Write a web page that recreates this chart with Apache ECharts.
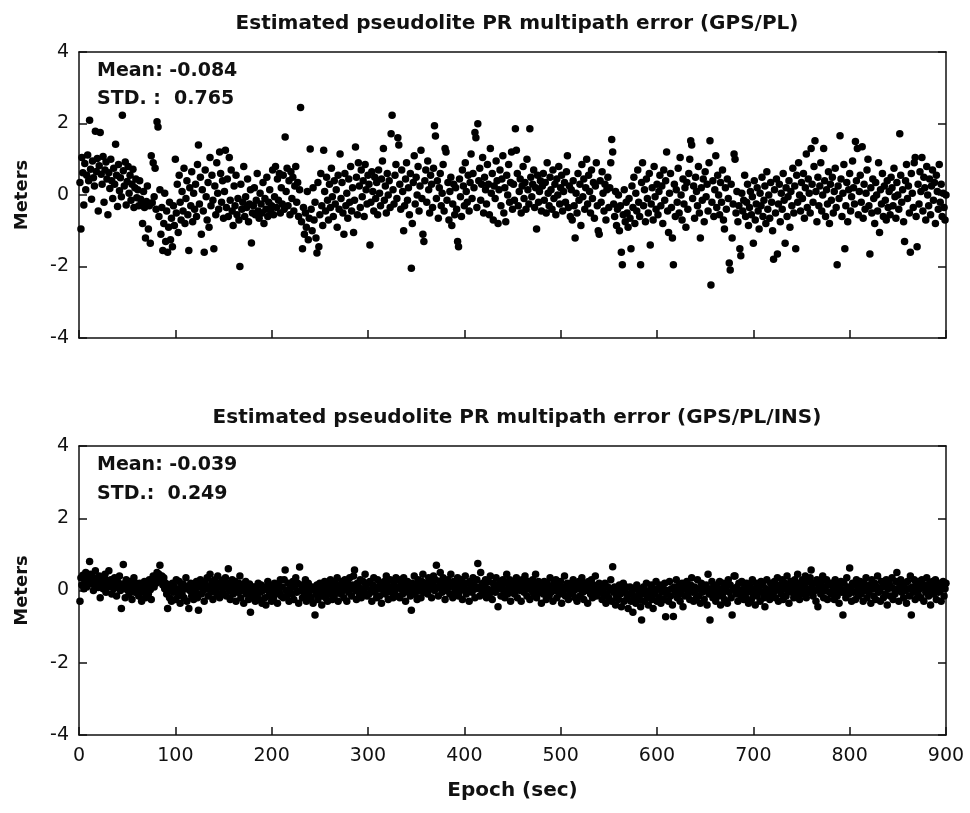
<!DOCTYPE html>
<html>
<head>
<meta charset="utf-8">
<script src="https://cdn.jsdelivr.net/npm/echarts@6/dist/echarts.min.js"></script>
<style>html,body{margin:0;padding:0;background:#fff}#chart{width:970px;height:813px}</style>
</head>
<body>
<div id="chart"></div>
<script>
// ---- data (epoch = index + 1 sec) ----
const xTicks = [0, 100, 200, 300, 400, 500, 600, 700, 800, 900];
const yTicks = [-4, -2, 0, 2, 4];
const titleTop = 'Estimated pseudolite PR multipath error (GPS/PL)';
const titleBottom = 'Estimated pseudolite PR multipath error (GPS/PL/INS)';
const statsTop = ['Mean: -0.084', 'STD. :  0.765'];
const statsBottom = ['Mean: -0.039', 'STD.:  0.249'];

const errGpsPl = [
0.35,-0.95,1.05,0.62,-0.28,0.88,0.15,0.55,1.12,0.4,2.09,0.72,-0.12,0.95,0.48,0.25,1.78,0.66,1.02,-0.45,0.82,1.75,0.58,0.3,1.08,-0.2,0.7,0.92,0.45,-0.55,
0.62,0.18,1.0,0.4,-0.1,0.75,0.3,1.42,0.55,-0.32,0.85,0.12,0.48,-0.05,2.23,0.68,0.25,0.92,-0.28,0.38,0.8,0.05,0.55,-0.15,0.3,0.72,-0.35,0.2,0.45,-0.08,
0.15,-0.3,0.4,-0.12,-0.25,-0.8,0.1,-0.35,-1.2,-0.18,0.25,-0.95,-0.3,-1.35,1.1,-0.22,0.9,-0.05,0.75,-0.4,2.05,1.9,-0.6,0.15,-1.1,-0.35,-1.55,-0.8,0.05,-1.3,
-0.45,-1.6,-0.9,-0.2,-1.25,-0.65,-1.45,-0.3,-0.85,1.0,-0.5,0.3,-1.05,0.55,-0.2,-0.7,0.1,-0.45,0.75,-0.8,-0.1,0.4,-0.55,-1.55,0.2,-0.3,0.65,-0.75,0.05,-0.4,
0.3,-0.6,0.85,1.4,-0.25,0.5,-1.1,0.15,-0.45,-1.6,0.7,-0.05,-0.7,0.35,-0.9,1.05,-0.3,0.55,-0.15,-1.5,0.25,-0.55,0.9,0.05,-0.4,1.2,0.6,-0.2,0.4,-0.65,
0.1,1.25,-0.35,0.45,-0.6,1.05,-0.15,0.7,-0.45,-0.85,0.25,-0.3,0.55,-0.55,-0.1,-0.7,-2.0,0.3,-0.4,-0.2,0.8,-0.6,-0.05,-0.35,0.45,-0.75,-0.25,0.15,-1.34,-0.5,
-0.3,0.2,-0.55,-0.15,0.6,-0.45,-0.65,0.05,-0.25,-0.5,0.35,-0.8,-0.1,-0.4,0.5,-0.6,-0.2,0.15,-0.45,-0.3,0.7,-0.55,-0.05,0.8,-0.35,0.45,-0.15,0.6,-0.5,0.2,
-0.25,0.55,-0.4,1.62,0.1,0.75,-0.3,0.4,-0.55,0.65,-0.1,0.5,-0.45,0.25,0.8,-0.2,0.35,-0.6,0.15,2.45,-0.75,-1.5,-0.35,-1.1,-0.5,-0.9,0.1,-1.25,-0.65,1.29,
-0.4,-1.0,0.2,-0.7,-0.2,-1.2,-1.62,0.35,-1.45,-0.55,0.6,-0.3,-0.85,1.25,0.1,-0.45,0.5,-0.15,-0.7,0.3,-0.35,0.75,-0.05,-0.6,0.4,-0.25,0.15,-0.9,0.55,-0.4,
1.15,-0.1,0.35,-0.5,-1.1,0.6,-0.3,0.05,-0.65,0.45,-0.2,0.8,-0.45,0.2,-1.05,-0.15,1.34,0.5,-0.55,0.9,0.25,-0.35,0.7,-0.05,0.4,-0.6,0.85,0.15,-0.25,0.55,
0.3,-1.4,-0.2,0.65,0.1,-0.45,0.5,-0.1,0.35,-0.55,0.7,0.05,-0.3,0.45,0.95,1.3,-0.15,0.25,-0.5,0.6,0.0,0.4,-0.35,1.71,2.23,0.15,-0.25,0.55,0.85,-0.1,
1.6,1.4,0.3,-0.4,0.7,0.1,-1.0,-0.3,0.45,0.9,-0.15,0.2,-0.55,0.6,-2.05,-0.8,0.35,1.1,-0.25,0.5,0.0,0.8,-0.45,0.25,1.25,-0.1,-1.1,-1.3,0.4,0.7,
-0.2,0.95,0.15,-0.5,0.55,0.3,-0.35,0.75,1.94,1.65,-0.1,0.4,-0.65,0.2,0.6,-0.3,0.05,0.85,-0.45,1.3,1.2,-0.15,0.35,-0.7,0.1,0.5,-0.85,-0.25,0.3,-0.55,
0.2,-0.4,-1.3,-1.45,0.45,-0.05,-0.6,0.7,0.25,-0.3,0.9,0.1,-0.2,0.55,-0.45,0.35,1.15,-0.1,0.6,0.2,1.75,1.6,-0.35,1.99,0.4,0.75,-0.15,0.3,1.05,-0.5,
0.5,0.15,-0.25,0.85,0.3,-0.55,1.3,0.05,0.6,-0.7,0.25,-0.1,0.95,0.4,-0.8,0.15,0.7,-0.3,0.45,1.1,-0.5,0.2,-0.75,0.55,0.0,0.85,-0.2,0.35,1.2,-0.4,
0.3,-0.15,1.85,1.25,0.6,-0.3,0.1,0.45,-0.5,0.25,0.8,-0.1,0.35,-0.4,1.0,0.15,-0.25,1.85,0.5,-0.05,0.3,0.7,-0.35,0.2,-0.95,0.55,-0.2,0.1,0.4,-0.45,
0.25,0.6,-0.15,0.35,-0.5,0.9,0.05,-0.3,0.5,0.15,-0.4,0.7,-0.1,0.3,-0.55,0.45,0.0,0.8,-0.25,0.2,0.55,-0.45,0.1,0.35,-0.2,0.65,1.1,-0.35,0.25,-0.6,
0.15,-0.7,0.4,-0.3,-1.2,0.05,-0.5,0.6,-0.15,0.3,-0.85,0.85,-0.05,0.45,-0.4,0.2,1.0,-0.25,0.55,0.1,-0.5,0.7,-0.1,0.35,-0.65,0.25,0.9,-0.3,-1.0,-1.1,
0.4,-0.2,0.65,0.05,-0.45,0.3,-0.7,0.15,0.5,-0.35,0.2,0.9,1.55,1.2,-0.25,-0.6,0.1,-0.85,-0.4,0.0,-1.0,-0.3,-1.6,-1.95,-0.55,0.15,-0.75,-0.2,-0.5,-0.9,
-0.1,-0.65,-1.5,0.25,-0.35,0.5,-0.8,0.05,-0.45,0.7,-0.2,-0.6,-1.95,0.35,0.9,-0.3,0.15,-0.75,0.45,-0.1,-0.5,0.6,-1.4,-0.25,0.2,-0.7,0.8,-0.05,-0.4,0.3,
-0.55,0.1,0.55,-0.3,0.25,-0.8,0.7,-0.15,0.4,1.2,-0.45,-1.05,0.05,0.6,-0.35,-1.2,-1.95,0.3,-0.6,0.15,-0.2,0.75,-0.5,1.05,0.0,-0.7,0.45,-0.25,0.2,-0.9,
0.35,-0.4,0.6,1.0,1.52,1.4,-0.1,0.25,-0.65,0.5,0.1,-0.3,0.8,-0.5,-1.2,0.2,-0.15,0.45,-0.75,0.65,-0.05,0.3,-0.45,0.9,1.52,-2.52,-0.2,0.4,-0.6,0.15,
1.1,-0.35,0.55,0.0,-0.55,0.35,-0.2,0.7,-0.7,-0.95,0.2,-0.4,0.45,-0.1,-1.9,-2.1,0.3,-1.2,-0.25,1.15,1.0,-0.5,0.1,-0.75,-0.3,-1.5,-1.7,0.05,-0.45,-0.15,
0.55,-0.6,-0.2,0.3,-0.85,-0.35,0.1,-0.55,-0.05,-1.35,0.4,-0.7,-0.25,0.2,-0.45,-0.95,0.05,-0.3,0.5,-0.6,-0.15,0.25,-0.8,0.65,-0.4,0.0,-0.65,0.35,-0.2,-1.0,
-1.8,0.15,-0.5,0.45,-1.65,-0.25,0.3,-0.75,0.05,-0.4,0.6,-0.15,-1.35,0.2,-0.6,-0.05,0.4,-0.9,0.1,-0.3,0.75,-0.5,0.25,-1.5,0.55,-0.2,0.9,0.0,-0.45,0.35,
-0.1,0.6,-0.65,0.2,1.15,-0.35,0.45,0.05,-0.5,1.3,0.3,-0.2,0.8,1.52,0.1,-0.75,0.5,-0.3,0.25,0.9,-0.45,0.0,1.3,0.4,-0.6,0.15,-0.25,0.65,-0.8,0.3,
-0.15,0.5,-0.5,0.1,0.75,-0.35,-1.95,0.25,-0.1,1.66,0.45,-0.6,0.05,0.85,-1.5,-0.3,0.35,-0.75,0.15,0.6,-0.45,-0.05,0.95,0.2,-0.25,1.5,0.4,1.3,-0.55,0.1,
0.55,-0.2,1.35,-0.65,0.3,-0.4,0.05,0.7,1.0,-0.3,-1.65,0.2,-0.5,0.45,-0.1,-0.8,0.35,0.0,-0.45,0.9,-1.05,0.15,-0.25,0.6,-0.6,0.25,-0.15,-0.7,0.4,-0.35,
0.1,-0.55,0.5,0.2,-0.3,0.75,-0.05,-0.65,0.35,0.0,-0.4,1.71,0.55,-0.2,0.15,-0.75,-1.3,0.4,0.85,-0.1,0.25,-0.5,-1.6,0.6,0.05,-0.35,0.9,1.05,-0.6,-1.45,
0.3,-0.25,0.65,0.1,1.05,-0.45,0.5,0.2,-0.7,0.8,0.0,-0.3,0.45,-0.55,0.25,0.7,-0.15,0.35,-0.8,0.55,0.1,-0.4,0.85,-0.2,0.3,-0.6,0.05,-0.35,-0.7,0.0
];

const errGpsPlIns = [
-0.3,0.35,0.15,0.42,0.05,0.28,0.5,0.1,0.32,0.2,0.8,0.45,0.18,0.38,0.0,0.25,0.55,0.12,0.3,0.08,0.4,-0.2,0.22,0.35,0.05,0.15,0.45,-0.05,0.28,0.1,
0.55,0.12,0.3,-0.1,0.2,0.05,0.35,0.15,-0.15,0.25,0.08,0.4,0.0,-0.5,0.18,0.72,0.1,-0.2,0.3,0.02,0.15,-0.1,0.25,0.05,-0.25,0.12,0.35,-0.05,0.2,0.0,
0.1,-0.15,0.2,0.0,-0.3,0.12,-0.05,0.25,-0.2,0.05,0.15,-0.1,0.3,0.02,-0.25,0.2,0.4,0.1,0.35,0.2,0.5,0.3,0.45,0.7,0.25,0.4,0.15,0.35,0.05,0.2,
-0.1,-0.5,0.15,-0.2,0.05,-0.3,0.2,-0.05,0.1,-0.25,0.3,0.0,-0.15,0.25,-0.35,0.08,-0.1,0.18,-0.2,0.05,0.35,-0.3,0.12,-0.5,0.0,0.2,-0.15,0.1,-0.25,0.15,
-0.05,0.25,-0.2,-0.55,0.1,0.3,-0.1,0.15,0.0,-0.3,0.2,0.05,0.35,-0.15,0.1,0.45,-0.05,0.25,-0.25,0.12,0.3,0.0,-0.1,0.4,0.15,-0.2,0.22,0.08,-0.05,0.3,
0.1,0.35,-0.15,0.2,0.6,0.0,-0.25,0.15,0.3,-0.1,0.05,0.25,-0.3,0.1,-0.05,0.2,0.4,-0.2,0.0,0.15,-0.35,0.1,0.25,-0.1,0.05,-0.25,0.18,-0.6,0.0,0.1,
-0.15,0.1,-0.3,0.05,-0.1,0.2,-0.25,-0.05,0.15,-0.35,0.0,0.1,-0.2,-0.4,0.05,0.25,-0.15,-0.05,0.12,-0.3,0.0,-0.2,0.2,-0.1,0.08,-0.35,0.15,-0.05,0.3,-0.15,
0.1,-0.2,0.3,0.57,0.0,-0.15,0.2,-0.3,0.05,0.15,-0.1,0.25,-0.25,0.1,0.35,-0.05,0.2,-0.35,0.65,0.0,0.15,-0.2,0.1,-0.1,0.3,-0.3,0.05,0.2,-0.15,0.0,
-0.2,0.1,-0.35,0.05,-0.68,-0.1,0.15,-0.25,0.0,0.2,-0.15,-0.4,0.1,-0.05,0.25,-0.2,0.05,-0.3,0.15,-0.1,0.3,0.0,-0.25,0.12,-0.15,0.2,-0.05,0.35,-0.3,0.05,
0.15,-0.1,0.25,0.0,-0.2,0.3,0.1,-0.3,0.2,-0.05,0.35,0.05,-0.15,0.15,0.4,0.57,0.0,-0.25,0.2,0.1,-0.1,0.3,-0.2,0.05,0.25,-0.05,0.45,0.1,-0.15,0.2,
-0.1,0.25,0.0,-0.3,0.15,0.35,-0.05,0.1,-0.2,0.3,0.05,-0.15,0.2,-0.35,0.1,0.0,0.25,-0.1,0.4,0.15,-0.25,0.05,0.3,-0.05,0.1,-0.2,0.2,0.0,0.35,-0.15,
0.1,0.3,-0.2,0.05,0.2,-0.1,0.35,0.0,-0.3,0.15,0.25,-0.05,0.1,-0.15,-0.55,0.2,0.05,0.4,-0.1,0.15,-0.25,0.3,0.0,0.1,-0.2,0.25,0.45,-0.05,0.15,0.05,
0.2,-0.1,0.35,0.05,0.25,-0.2,0.15,0.4,0.0,0.3,0.7,0.1,-0.15,0.25,0.5,0.05,-0.05,0.35,0.15,-0.25,0.2,0.0,0.3,0.1,-0.1,0.45,0.15,-0.2,0.25,0.05,
-0.05,0.2,0.35,-0.15,0.1,0.0,0.3,-0.25,0.15,0.05,0.4,-0.1,0.2,0.0,-0.3,0.25,0.1,-0.05,0.35,0.15,-0.2,0.05,0.3,0.75,0.1,-0.15,0.5,0.0,0.2,-0.1,
0.15,0.3,-0.2,0.05,0.25,-0.1,0.4,0.0,-0.25,0.2,0.1,-0.05,0.35,0.15,-0.45,0.05,0.25,-0.15,0.1,0.3,0.0,-0.2,0.2,0.45,-0.1,0.05,0.3,-0.3,0.15,0.0,
0.25,-0.1,0.1,0.35,-0.2,0.05,0.2,0.0,-0.3,0.3,0.15,-0.05,0.4,0.1,-0.15,0.25,0.05,-0.25,0.2,0.0,0.3,-0.1,0.15,0.45,-0.2,0.05,0.25,-0.05,0.1,-0.35,
0.15,-0.1,0.25,0.0,-0.25,0.2,0.05,-0.15,0.35,-0.05,0.1,-0.3,0.2,0.0,0.3,-0.2,0.05,0.15,-0.1,0.25,-0.35,0.1,0.0,0.4,-0.15,0.05,0.2,-0.25,0.1,-0.05,
0.2,-0.1,0.3,0.0,-0.2,0.15,-0.3,0.05,0.25,-0.15,0.1,0.35,-0.05,-0.25,0.2,0.0,0.1,-0.35,0.25,0.05,-0.1,0.3,-0.2,0.15,0.0,0.4,-0.15,0.1,-0.05,0.2,
-0.05,0.15,-0.25,0.0,-0.15,0.2,-0.35,-0.1,0.1,-0.2,0.05,0.3,-0.3,0.66,-0.05,0.1,-0.4,-0.15,0.05,-0.25,0.15,-0.1,-0.45,0.0,0.2,-0.3,-0.05,0.1,-0.2,-0.5,
-0.1,0.1,-0.3,-0.05,-0.6,-0.2,0.05,-0.35,0.15,-0.15,0.0,-0.25,-0.45,-0.82,-0.1,0.1,-0.3,-0.05,0.2,-0.2,-0.4,0.0,-0.15,0.15,-0.25,-0.5,0.05,-0.1,0.25,-0.3,
0.05,-0.2,0.15,-0.35,-0.05,0.1,-0.25,0.2,-0.73,-0.1,0.0,-0.3,0.25,-0.15,0.05,-0.4,-0.72,0.1,-0.05,0.3,-0.2,0.0,0.15,-0.3,-0.1,0.2,-0.45,0.05,-0.15,0.1,
0.25,-0.1,0.05,-0.25,0.15,0.35,-0.05,-0.3,0.1,0.0,-0.2,0.3,-0.15,0.05,-0.35,0.2,-0.05,0.1,-0.25,0.0,0.15,-0.4,0.45,-0.1,-0.82,0.05,0.25,-0.2,0.1,-0.05,
-0.3,0.15,0.0,-0.15,0.25,-0.4,0.05,-0.1,0.2,-0.25,0.1,0.0,-0.35,0.3,-0.05,0.15,-0.2,-0.68,0.05,0.4,0.4,-0.1,0.1,-0.3,0.2,0.0,-0.15,0.25,-0.05,-0.25,
0.1,-0.2,0.2,-0.05,-0.35,0.15,0.0,-0.25,0.3,-0.1,0.05,-0.4,0.2,-0.15,0.1,0.0,-0.3,0.25,-0.05,0.15,-0.2,-0.45,0.05,0.3,-0.1,0.0,-0.25,0.2,-0.15,0.1,
-0.05,0.25,-0.2,0.1,0.35,-0.3,0.0,0.15,-0.1,0.3,-0.25,0.05,0.2,-0.15,0.4,0.0,-0.35,0.1,0.25,-0.05,0.15,-0.2,0.3,0.05,-0.1,0.45,0.2,-0.25,0.1,0.0,
0.3,-0.1,0.15,0.4,-0.2,0.05,0.25,-0.05,0.35,0.57,0.1,-0.15,0.2,0.0,-0.3,0.3,-0.45,0.15,0.05,-0.1,0.25,0.4,-0.2,0.1,0.0,0.3,-0.25,0.15,-0.05,0.2,
-0.1,0.2,0.05,-0.25,0.3,0.0,-0.15,0.15,-0.35,0.1,0.25,-0.05,-0.68,0.2,0.0,-0.2,0.35,0.1,-0.1,0.62,0.05,-0.3,0.2,-0.05,0.15,-0.25,0.3,0.0,-0.15,0.1,
0.25,-0.1,0.05,-0.3,0.2,0.0,0.35,-0.2,0.1,-0.05,0.15,-0.35,0.3,0.05,-0.15,0.2,-0.25,0.1,0.4,-0.05,0.0,-0.3,0.25,0.1,-0.2,0.15,-0.1,0.3,-0.4,0.05,
0.2,-0.15,0.1,0.35,-0.25,0.05,-0.1,0.25,0.5,0.0,-0.3,0.15,0.3,-0.05,0.1,-0.2,0.2,0.0,-0.35,0.25,0.05,-0.15,0.4,-0.68,0.1,-0.05,0.3,-0.25,0.15,0.0,
-0.1,0.25,0.05,-0.2,0.3,0.1,-0.3,0.15,-0.05,0.35,0.0,-0.15,0.2,-0.4,0.1,0.25,-0.1,0.05,0.3,-0.25,0.15,-0.05,0.2,0.0,-0.3,0.1,0.25,-0.15,0.05,0.2
];

// ---- chart ----
const FONT = 'DejaVu Sans';
const AXC = '#111';
const toPairs = arr => arr.map((v, i) => [i + 1, v]);

function xAx(gridIndex, showLabels) {
  return {
    type: 'value', gridIndex, min: xTicks[0], max: xTicks[xTicks.length - 1], interval: 100,
    position: 'bottom',
    axisLine: { show: true, onZero: false, lineStyle: { color: AXC, width: 1.5 } },
    axisTick: { show: true, inside: true, length: 8, lineStyle: { color: AXC, width: 1.5 } },
    axisLabel: { show: showLabels, color: '#111', fontFamily: FONT, fontSize: 19, margin: 12 },
    splitLine: { show: false },
    name: showLabels ? 'Epoch (sec)' : '', nameLocation: 'middle', nameGap: 46,
    nameTextStyle: { fontFamily: FONT, fontWeight: 'bold', fontSize: 20, color: '#111' }
  };
}
function xTop(gridIndex) {
  return {
    type: 'value', gridIndex, min: 0, max: 900, position: 'top',
    axisLine: { show: true, onZero: false, lineStyle: { color: AXC, width: 1.5 } },
    axisTick: { show: false }, axisLabel: { show: false }, splitLine: { show: false }
  };
}
function yAx(gridIndex) {
  return {
    type: 'value', gridIndex, min: yTicks[0], max: yTicks[yTicks.length - 1], interval: 2,
    position: 'left',
    axisLine: { show: true, onZero: false, lineStyle: { color: AXC, width: 1.5 } },
    axisTick: { show: true, inside: true, length: 8, lineStyle: { color: AXC, width: 1.5 } },
    axisLabel: { show: true, color: '#111', fontFamily: FONT, fontSize: 19, margin: 10 },
    splitLine: { show: false },
    name: 'Meters', nameLocation: 'middle', nameGap: 48, nameRotate: 90,
    nameTextStyle: { fontFamily: FONT, fontWeight: 'bold', fontSize: 18, color: '#111' }
  };
}
function yRight(gridIndex) {
  return {
    type: 'value', gridIndex, min: -4, max: 4, interval: 2, position: 'right',
    axisLine: { show: true, onZero: false, lineStyle: { color: AXC, width: 1.5 } },
    axisTick: { show: true, inside: true, length: 8, lineStyle: { color: AXC, width: 1.5 } },
    axisLabel: { show: false }, splitLine: { show: false }
  };
}

const chart = echarts.init(document.getElementById('chart'), null, { renderer: 'canvas' });
const statStyle = { fontFamily: FONT, fontWeight: 'bold', fontSize: 19, fill: '#111' };
chart.setOption({
  animation: false,
  backgroundColor: '#fff',
  title: [
    { text: titleTop, left: 512, top: 9, textAlign: 'center',
      textStyle: { fontFamily: FONT, fontWeight: 'bold', fontSize: 20, color: '#111' } },
    { text: titleBottom, left: 512, top: 403, textAlign: 'center',
      textStyle: { fontFamily: FONT, fontWeight: 'bold', fontSize: 20, color: '#111' } }
  ],
  grid: [
    { left: 79, top: 52, width: 867, height: 286 },
    { left: 79, top: 446, width: 867, height: 289 }
  ],
  xAxis: [xAx(0, false), xTop(0), xAx(1, true), xTop(1)],
  yAxis: [yAx(0), yRight(0), yAx(1), yRight(1)],
  graphic: [
    { type: 'text', left: 97, top: 62, style: Object.assign({ text: statsTop[0] }, statStyle) },
    { type: 'text', left: 97, top: 90, style: Object.assign({ text: statsTop[1] }, statStyle) },
    { type: 'text', left: 97, top: 456, style: Object.assign({ text: statsBottom[0] }, statStyle) },
    { type: 'text', left: 97, top: 485, style: Object.assign({ text: statsBottom[1] }, statStyle) }
  ],
  series: [
    { type: 'scatter', xAxisIndex: 0, yAxisIndex: 0, data: toPairs(errGpsPl),
      symbol: 'circle', symbolSize: 7.5, itemStyle: { color: '#000', opacity: 1 }, silent: true },
    { type: 'scatter', xAxisIndex: 2, yAxisIndex: 2, data: toPairs(errGpsPlIns),
      symbol: 'circle', symbolSize: 7.5, itemStyle: { color: '#000', opacity: 1 }, silent: true }
  ]
});
</script>
</body>
</html>
